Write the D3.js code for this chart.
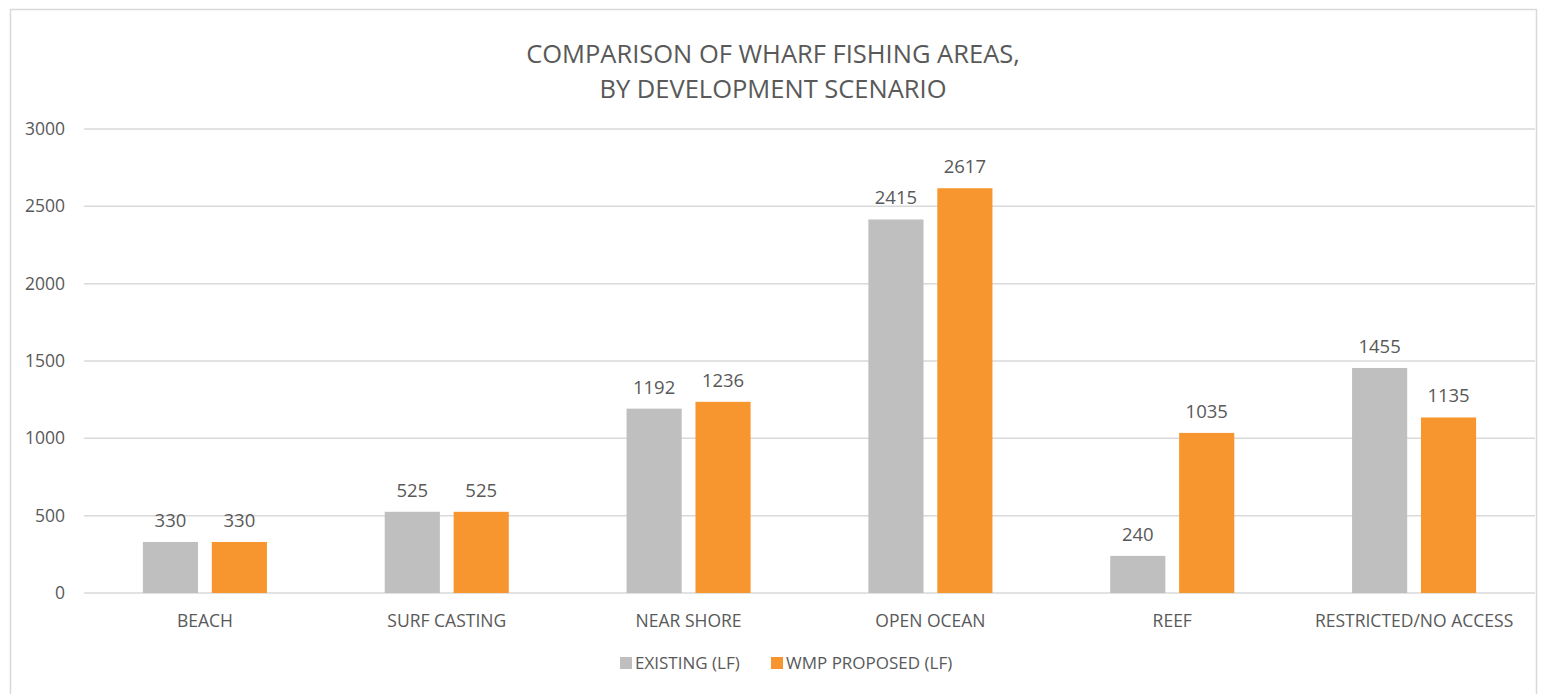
<!DOCTYPE html>
<html>
<head>
<meta charset="utf-8">
<script src="https://cdn.jsdelivr.net/npm/d3@7"></script>
<style>
  body { margin: 0; background: #fff; }
  text { font-family: "Open Sans", sans-serif; fill: #595959; }
</style>
</head>
<body>
<div id="chart"></div>
<script>
var categories = ["BEACH", "SURF CASTING", "NEAR SHORE", "OPEN OCEAN", "REEF", "RESTRICTED/NO ACCESS"];
var seriesNames = ["EXISTING (LF)", "WMP PROPOSED (LF)"];
var existing = [330, 525, 1192, 2415, 240, 1455];
var proposed = [330, 525, 1236, 2617, 1035, 1135];
var yTicks = [0, 500, 1000, 1500, 2000, 2500, 3000];
var colors = ["#bfbfbf", "#f7962f"];

var width = 1546, height = 694;
var margin = {top: 129, right: 11, bottom: 101, left: 84};

var svg = d3.select("#chart").append("svg")
    .attr("width", width)
    .attr("height", height);

// chart frame
svg.append("rect")
    .attr("x", 10.5).attr("y", 9.5)
    .attr("width", 1526).attr("height", 700)
    .style("fill", "none")
    .style("stroke", "#d9d9d9")
    .style("stroke-width", 1.5);

var x = d3.scaleBand()
    .domain(categories)
    .range([margin.left, width - margin.right])
    .paddingInner(0.487)
    .paddingOuter(0.2435);

var x1 = d3.scaleBand()
    .domain(seriesNames)
    .range([0, x.bandwidth()])
    .paddingInner(0.2);

var y = d3.scaleLinear()
    .domain([0, 3000])
    .range([height - margin.bottom, margin.top]);

// gridlines
svg.append("g")
    .selectAll("line")
    .data(yTicks)
    .join("line")
    .attr("x1", margin.left)
    .attr("x2", width - margin.right)
    .attr("y1", d => y(d))
    .attr("y2", d => y(d))
    .style("stroke", "#d9d9d9")
    .style("stroke-width", 1.5);

// y axis labels
svg.append("g")
    .selectAll("text")
    .data(yTicks)
    .join("text")
    .attr("x", 65)
    .attr("y", d => y(d))
    .attr("dy", "0.35em")
    .attr("text-anchor", "end")
    .style("font-size", "17.5px")
    .text(d => d);

var rows = categories.map((c, i) => ({cat: c, vals: [existing[i], proposed[i]]}));

var groups = svg.append("g")
    .selectAll("g")
    .data(rows)
    .join("g")
    .attr("transform", d => "translate(" + x(d.cat) + ",0)");

groups.selectAll("rect")
    .data(d => d.vals.map((v, j) => ({name: seriesNames[j], v: v, j: j})))
    .join("rect")
    .attr("x", d => x1(d.name))
    .attr("y", d => y(d.v))
    .attr("width", x1.bandwidth())
    .attr("height", d => y(0) - y(d.v))
    .style("fill", d => colors[d.j]);

// value labels
groups.selectAll("text")
    .data(d => d.vals.map((v, j) => ({name: seriesNames[j], v: v})))
    .join("text")
    .attr("x", d => x1(d.name) + x1.bandwidth() / 2)
    .attr("y", d => y(d.v) - 15)
    .attr("text-anchor", "middle")
    .style("font-size", "18.5px")
    .text(d => d.v);

// category labels
svg.append("g")
    .selectAll("text")
    .data(categories)
    .join("text")
    .attr("x", d => x(d) + x.bandwidth() / 2)
    .attr("y", y(0) + 34)
    .attr("text-anchor", "middle")
    .style("font-size", "17.5px")
    .text(d => d);

// title
var title = svg.append("text")
    .attr("text-anchor", "middle")
    .style("font-size", "25.5px");
title.append("tspan").attr("x", 773).attr("y", 63).text("COMPARISON OF WHARF FISHING AREAS,");
title.append("tspan").attr("x", 773).attr("y", 98).text("BY DEVELOPMENT SCENARIO");

// legend
var legendX = [620, 771];
var legend = svg.append("g")
    .selectAll("g")
    .data(seriesNames)
    .join("g")
    .attr("transform", (d, i) => "translate(" + legendX[i] + ",663)");

legend.append("rect")
    .attr("x", 0).attr("y", -6)
    .attr("width", 12).attr("height", 12)
    .style("fill", (d, i) => colors[i]);

legend.append("text")
    .attr("x", 15)
    .attr("dy", "0.35em")
    .style("font-size", "17px")
    .text(d => d);
</script>
</body>
</html>
